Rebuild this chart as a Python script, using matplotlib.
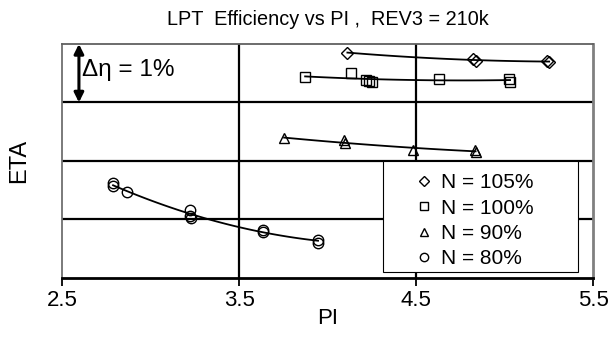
import numpy as np
import matplotlib
matplotlib.use("Agg")
import matplotlib.pyplot as plt
from matplotlib.patches import Rectangle

plt.rcParams['font.family'] = ['Liberation Sans', 'DejaVu Sans']

# PI vs relative efficiency (in %-points of ETA) for each speed line
pi_105 = [4.111, 4.822, 4.839, 5.240, 5.252]
eta_105 = [3.853, 3.738, 3.713, 3.713, 3.687]

pi_100 = [3.872, 4.132, 4.217, 4.234, 4.251, 4.631, 5.025, 5.031]
eta_100 = [3.436, 3.504, 3.379, 3.371, 3.345, 3.409, 3.405, 3.354]

pi_90 = [3.753, 4.092, 4.098, 4.481, 4.833, 4.836]
eta_90 = [2.383, 2.354, 2.303, 2.183, 2.191, 2.149]

pi_80 = [2.786, 2.786, 2.863, 3.221, 3.221, 3.227, 3.632, 3.632, 3.943, 3.945]
eta_80 = [1.619, 1.568, 1.470, 1.157, 1.063, 1.021, 0.824, 0.781, 0.644, 0.602]

series = [
    (pi_105, eta_105, 'D', 'N = 105%', 6),
    (pi_100, eta_100, 's', 'N = 100%', 7.5),
    (pi_90, eta_90, '^', 'N = 90%', 7.5),
    (pi_80, eta_80, 'o', 'N = 80%', 7.5),
]

fig = plt.figure(figsize=(6.12, 3.47), dpi=100)
ax = fig.add_axes([0.1021, 0.1997, 0.8669, 0.6735])

for x, y, m, lab, ms in series:
    # 2nd order trendline through each speed line
    c = np.polyfit(x, y, 2)
    xx = np.linspace(min(x), max(x), 100)
    ax.plot(xx, np.polyval(c, xx), color='black', lw=1.3, zorder=3)
    ax.plot(x, y, ls='none', marker=m, ms=ms, mfc='none', mec='black',
            mew=1.0, label=lab, zorder=4)

ax.set_xlim(2.5, 5.5)
ax.set_ylim(0, 4)
ax.set_xticks([2.5, 3.5, 4.5, 5.5])
ax.set_xticklabels(['2.5', '3.5', '4.5', '5.5'])
ax.set_yticks([1, 2, 3])
ax.set_yticklabels([])
ax.tick_params(axis='x', direction='out', length=6, width=1.3, labelsize=16, pad=3)
ax.tick_params(axis='y', length=0)

# grid lines
for v in [3.5, 4.5]:
    ax.axvline(v, color='black', lw=1.6, zorder=2)
for v in [1, 2, 3]:
    ax.axhline(v, color='black', lw=1.6, zorder=2)

ax.spines['left'].set_color('#707070')
ax.spines['left'].set_linewidth(1.3)
ax.spines['top'].set_color('#606060')
ax.spines['top'].set_linewidth(1.3)
ax.spines['right'].set_color('#808080')
ax.spines['right'].set_linewidth(2.0)
ax.spines['bottom'].set_color('black')
ax.spines['bottom'].set_linewidth(2.0)

# delta-eta scale bar: one grid step
ax.annotate('', xy=(2.593, 3.0), xytext=(2.593, 4.0),
            arrowprops=dict(arrowstyle='<|-|>', color='black', lw=2.2,
                            mutation_scale=14, shrinkA=0, shrinkB=0))
ax.text(2.612, 3.56, 'Δη = 1%', fontsize=17.5, va='center', ha='left')

ax.set_title('LPT  Efficiency vs PI ,  REV3 = 210k', fontsize=14.3, pad=14)
ax.set_xlabel('PI', fontsize=16, labelpad=-2)
ax.set_ylabel('ETA', fontsize=17, labelpad=20)

# legend box drawn separately so the entries sit centred in a wide frame
box = Rectangle((0.6036, 0.0257), 0.3674, 0.475, transform=ax.transAxes,
                facecolor='white', edgecolor='black', lw=0.8, zorder=5)
ax.add_patch(box)
leg = ax.legend(loc='center', bbox_to_anchor=(0.6036 + 0.3674 / 2 - 0.011, 0.0257 + 0.475 / 2 - 0.02),
                borderaxespad=0, fontsize=15, frameon=False,
                handlelength=0.8, handletextpad=0.4, labelspacing=0.3,
                borderpad=0.3, markerscale=0.8)
leg.set_zorder(6)

fig.savefig('out.png', dpi=100)
